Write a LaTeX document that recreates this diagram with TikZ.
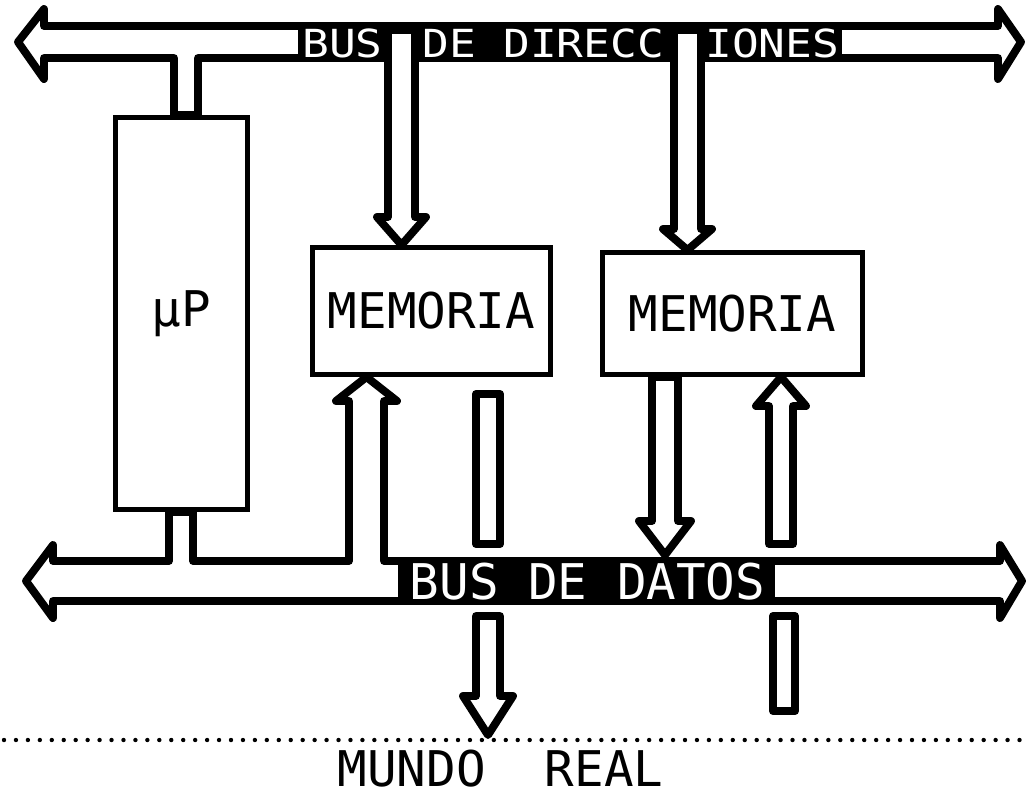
\documentclass[tikz,border=0pt]{standalone}
\usepackage{fontspec}
\newfontfamily\lcdfont{DejaVu Sans Mono}
\newfontfamily\busfont[FakeStretch=1.15]{DejaVu Sans Mono}

\begin{document}
\begin{tikzpicture}[x=0.02cm, y=-0.02cm,
	fat/.style={draw, line width=4.5pt, line join=round, fill=white},
	box/.style={draw, line width=2.8pt, fill=white, font=\lcdfont\fontsize{28}{30}\selectfont},
	bustext/.style={inner sep=0pt, text=white, anchor=base west, font=\busfont\fontsize{22}{24}\selectfont},
	label/.style={inner sep=0pt, font=\lcdfont\fontsize{28}{30}\selectfont}]
	\useasboundingbox (0,0) rectangle (1031,796);
	% address bus with the stem down to the processor
	\path[fat] (18,42) -- (44,9) -- (44,26) -- (998,26) -- (998,9) -- (1021,42) -- (998,79) -- (998,58)
		-- (198,58) -- (198,115) -- (174,115) -- (174,58) -- (44,58) -- (44,79) -- cycle;
	% data bus with the processor stem and the arrow up to the first memory
	\path[fat] (26,581) -- (53,545) -- (53,561) -- (169,561) -- (169,512) -- (193,512) -- (193,561)
		-- (349,561) -- (349,401) -- (336,401) -- (366.5,377) -- (397,401) -- (384,401) -- (384,561)
		-- (1000,561) -- (1000,545) -- (1022,581) -- (1000,618) -- (1000,601) -- (53,601) -- (53,618) -- cycle;
	% black fields for the bus names
	\fill (298,26) rectangle (842,58);
	\fill (398,561) rectangle (775,601);
	\node[bustext] (dir1) at (302,57) {BUS};
	\node[bustext] (dir2) at (422,57) {DE};
	\node[bustext] (dir3) at (503,57) {DIRECC};
	\node[bustext] (dir4) at (705,57) {IONES};
	\node[bustext, anchor=base, font=\lcdfont\fontsize{28}{30}\selectfont] (datname) at (587.5,599) {BUS DE DATOS};
	% addresses down to the memories
	\path[fat] (388,30) -- (388,217) -- (377,217) -- (401.5,245) -- (426,217) -- (415,217) -- (415,30) -- cycle;
	\path[fat] (674,30) -- (674,229) -- (663,229) -- (687.5,250) -- (712,229) -- (701,229) -- (701,30) -- cycle;
	% second memory to and from the data bus
	\path[fat] (652,377) -- (652,521) -- (639,521) -- (665,555) -- (691,521) -- (678,521) -- (678,377) -- cycle;
	\path[fat] (769,544) -- (769,406) -- (756,406) -- (781,377) -- (806,406) -- (793,406) -- (793,544) -- cycle;
	% ports to the real world
	\path[fat] (476,394) rectangle (500,544);
	\path[fat] (476,616) -- (476,696) -- (463,696) -- (488,735) -- (513,696) -- (500,696) -- (500,616) -- cycle;
	\path[fat] (773,616) rectangle (795,711);
	% blocks
	\node[box, minimum width=2.64cm, minimum height=7.84cm] (cpu) at (181.5,313.5) {µP};
	\node[box, minimum width=4.76cm, minimum height=2.54cm] (mem1) at (431.5,311) {MEMORIA};
	\node[box, minimum width=5.2cm, minimum height=2.44cm] (mem2) at (732.5,313.5) {MEMORIA};
	% border of the real world
	\coordinate (wl) at (4,740);
	\coordinate (wr) at (1028,740);
	\draw[line width=2.5pt, line cap=round, dash pattern=on 0pt off 6.8pt] (wl) -- (wr);
	\node[label, anchor=base] (world) at (500.5,786) {MUNDO\ \ REAL};
\end{tikzpicture}
\end{document}
